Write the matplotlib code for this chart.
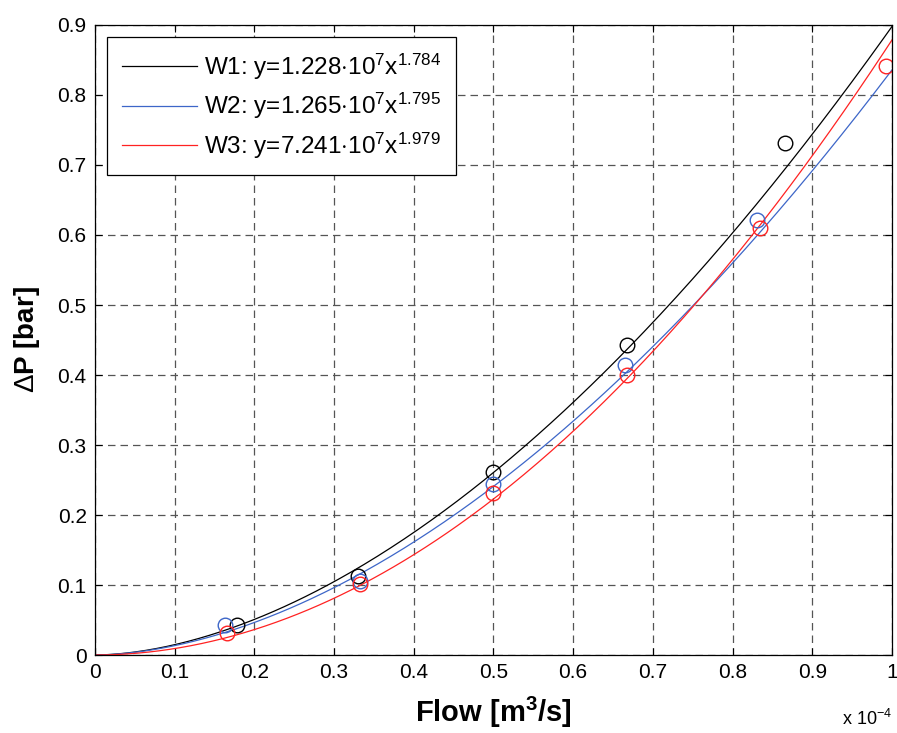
import numpy as np
import matplotlib
matplotlib.use('Agg')
import matplotlib.pyplot as plt

plt.rcParams['font.family'] = ['Liberation Sans', 'DejaVu Sans']
plt.rcParams['mathtext.fontset'] = 'custom'
plt.rcParams['mathtext.rm'] = 'Liberation Sans'
plt.rcParams['mathtext.it'] = 'Liberation Sans'
plt.rcParams['mathtext.bf'] = 'Liberation Sans:bold'

# measured points (flow in 1e-4 m3/s, dP in bar)
w1_flow = [0.178, 0.330, 0.499, 0.667, 0.866]
w1_dp = [0.043, 0.113, 0.262, 0.443, 0.732]
w2_flow = [0.163, 0.332, 0.499, 0.665, 0.831]
w2_dp = [0.043, 0.106, 0.244, 0.414, 0.621]
w3_flow = [0.166, 0.332, 0.499, 0.668, 0.834, 0.992]
w3_dp = [0.031, 0.101, 0.232, 0.400, 0.610, 0.841]

# fit coefficients from the legend: y = a * x^b
fit_a = [1.228e7, 1.265e7, 7.241e7]
fit_b = [1.784, 1.795, 1.979]
labels = ['W1', 'W2', 'W3']
colors = ['black', '#3d66c8', '#ff2222']

fig = plt.figure(figsize=(8.97, 7.33), dpi=100)
ax = fig.add_axes([0.1059, 0.1064, 0.8885, 0.8595])

xfit = np.linspace(0, 1e-4, 300)
points = [(w1_flow, w1_dp), (w2_flow, w2_dp), (w3_flow, w3_dp)]
for a, b, lab, c in zip(fit_a, fit_b, labels, colors):
    mant, ex = ('%.3e' % a).split('e')
    txt = r'%s: y=%s$\cdot$10$^{%d}$x$^{%.3f}$' % (lab, mant, int(ex), b)
    ax.plot(xfit * 1e4, a * xfit ** b, color=c, lw=0.9, label=txt)
for (fx, dp), c in zip(points, colors):
    ax.plot(fx, dp, 'o', mfc='none', mec=c, ms=10.5, mew=1.0)

ax.set_xlim(0, 1)
ax.set_ylim(0, 0.9)
ax.set_xticks(np.arange(0, 1.01, 0.1))
ax.set_yticks(np.arange(0, 0.91, 0.1))
ax.set_xticklabels(['0'] + ['%.1f' % v for v in np.arange(0.1, 0.95, 0.1)] + ['1'])
ax.set_yticklabels(['0'] + ['%.1f' % v for v in np.arange(0.1, 0.95, 0.1)])
ax.tick_params(direction='in', top=True, right=True, labelsize=15, length=5, pad=6)
ax.grid(True, linestyle=(0, (6, 4)), color='#555555', lw=0.9)
for s in ax.spines.values():
    s.set_linewidth(0.9)

ax.set_xlabel(r'Flow [m$^\mathbf{3}$/s]', fontsize=21, fontweight='bold', labelpad=9)
ax.set_ylabel(r'$\Delta$P [bar]', fontsize=20, fontweight='bold', labelpad=11)
ax.text(1.0, -0.085, r'x 10$^{-4}$', transform=ax.transAxes, fontsize=13, ha='right', va='top')

leg = ax.legend(loc='upper left', fontsize=17.5, handlelength=3.1, handletextpad=0.3,
                fancybox=False, edgecolor='black', framealpha=1, borderaxespad=0.5,
                labelspacing=0.38, borderpad=0.6)
leg.get_frame().set_linewidth(0.9)

plt.savefig('out.png', dpi=100)
